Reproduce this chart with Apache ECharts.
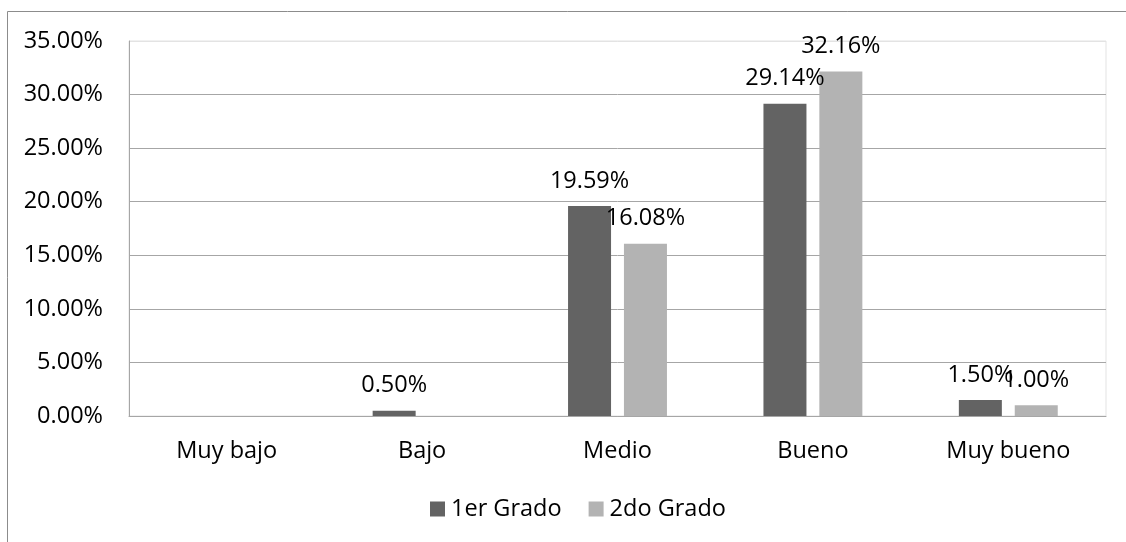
<!DOCTYPE html>
<html>
<head>
<meta charset="utf-8">
<script src="https://cdn.jsdelivr.net/npm/echarts@6/dist/echarts.min.js"></script>
<style>
html,body{margin:0;padding:0;background:#fff;}
#c{width:1126px;height:542px;}
</style>
</head>
<body>
<div id="c"></div>
<script>
var categories = ['Muy bajo', 'Bajo', 'Medio', 'Bueno', 'Muy bueno'];
var seriesNames = ['1er Grado', '2do Grado'];
var grado1 = [0, 0.50, 19.59, 29.14, 1.50];
var grado2 = [0, 0, 16.08, 32.16, 1.00];
var yTicks = [0, 5, 10, 15, 20, 25, 30, 35];

var FONT = 'Open Sans';
var FS = 23.5;
var chart = echarts.init(document.getElementById('c'), null, {renderer: 'canvas'});

function lbl() {
  return {
    show: true,
    position: 'top',
    distance: 13,
    color: '#000',
    fontFamily: FONT,
    fontSize: FS,
    formatter: function (p) { return p.value === 0 ? '' : p.value.toFixed(2) + '%'; }
  };
}

var gridColors = yTicks.map(function (t, i) { return i === yTicks.length - 1 ? '#e3e3e3' : '#a6a6a6'; });

chart.setOption({
  animation: false,
  backgroundColor: '#fff',
  textStyle: {fontFamily: FONT},
  graphic: [{
    type: 'rect',
    shape: {x: 7.5, y: 11.5, width: 1300, height: 700},
    style: {fill: 'none', stroke: '#8c8c8c', lineWidth: 1},
    silent: true
  }],
  grid: {
    left: 129, right: 20, top: 41, bottom: 126,
    show: true, borderColor: '#e3e3e3', borderWidth: 1,
    containLabel: false
  },
  legend: {
    top: 497,
    left: 430,
    padding: 0,
    itemWidth: 15,
    itemHeight: 15,
    itemGap: 27,
    icon: 'rect',
    textStyle: {fontFamily: FONT, fontSize: FS, color: '#000', padding: [0, 0, 0, 1]},
    data: seriesNames
  },
  xAxis: {
    type: 'category',
    data: categories,
    axisLine: {lineStyle: {color: '#a6a6a6', width: 1}},
    axisTick: {show: false},
    axisLabel: {color: '#000', fontFamily: FONT, fontSize: FS, margin: 23}
  },
  yAxis: {
    type: 'value',
    min: 0, max: 35, interval: 5,
    axisLine: {show: true, lineStyle: {color: '#a6a6a6', width: 1}},
    axisTick: {show: false},
    splitLine: {lineStyle: {color: gridColors, width: 1}},
    axisLabel: {
      color: '#000', fontFamily: FONT, fontSize: FS, margin: 26,
      formatter: function (v) { return v.toFixed(2) + '%'; }
    }
  },
  series: [
    {
      name: seriesNames[0], type: 'bar', data: grado1,
      barWidth: 43, barGap: '30%',
      itemStyle: {color: '#636363'},
      label: lbl()
    },
    {
      name: seriesNames[1], type: 'bar', data: grado2,
      barWidth: 43, barGap: '30%',
      itemStyle: {color: '#b3b3b3'},
      label: lbl()
    }
  ]
});
</script>
</body>
</html>
